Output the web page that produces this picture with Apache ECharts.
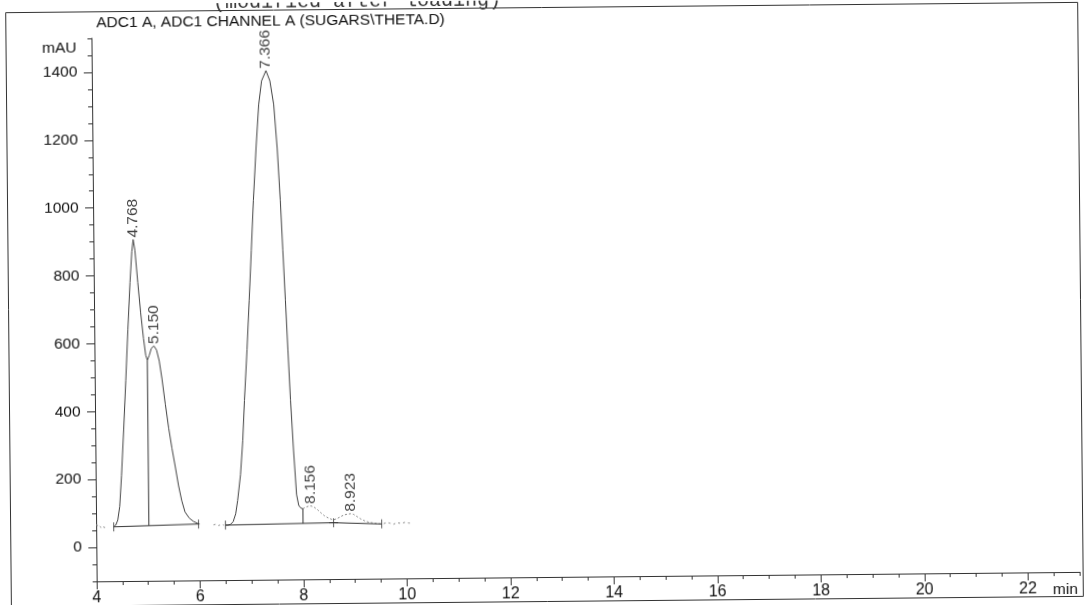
<!DOCTYPE html>
<html>
<head>
<meta charset="utf-8">
<script src="https://cdn.jsdelivr.net/npm/echarts@6/dist/echarts.min.js"></script>
<style>
  html, body { margin: 0; padding: 0; background: #fff; overflow: hidden; }
  #chart { width: 1092px; height: 605px; transform: rotate(-0.55deg); transform-origin: 546px 302px; }
</style>
</head>
<body>
<div id="chart"></div>
<script>
// Axis ticks: retention time (min) and detector response (mAU)
const timeTicks = [4, 6, 8, 10, 12, 14, 16, 18, 20, 22];
const responseTicks = [0, 200, 400, 600, 800, 1000, 1200, 1400];

// Detector trace, [time, mAU]; faint stretches are kept apart from the solid peak runs
const traceLead = [[4.00, 66], [4.03, 61], [4.06, 63], [4.10, 58], [4.14, 60], [4.19, 57]];
const tracePeaksAB = [
  [4.34, 60], [4.38, 65], [4.42, 80], [4.46, 120], [4.50, 210], [4.55, 345], [4.60, 490],
  [4.65, 640], [4.70, 780], [4.74, 870], [4.768, 906], [4.80, 875], [4.85, 780], [4.90, 690],
  [4.95, 615], [4.99, 565], [5.02, 550], [5.06, 565], [5.10, 585], [5.150, 592], [5.20, 580],
  [5.25, 548], [5.30, 495], [5.36, 420], [5.42, 350], [5.48, 290], [5.54, 236], [5.60, 180],
  [5.66, 135], [5.72, 102], [5.80, 84], [5.88, 74], [5.96, 68], [6.00, 66]
];
const traceGap = [[6.27, 63], [6.32, 65], [6.37, 61], [6.42, 64], [6.47, 62]];
const tracePeakC = [
  [6.50, 62], [6.55, 62], [6.60, 64], [6.65, 72], [6.70, 95], [6.74, 134], [6.80, 210],
  [6.85, 310], [6.89, 429], [6.95, 580], [7.00, 723], [7.05, 870], [7.10, 1018], [7.16, 1170],
  [7.22, 1300], [7.28, 1370], [7.366, 1400], [7.44, 1370], [7.51, 1300], [7.57, 1170],
  [7.62, 1018], [7.66, 870], [7.70, 723], [7.74, 575], [7.78, 429], [7.83, 280], [7.88, 150],
  [7.92, 118], [7.96, 110], [8.00, 108]
];
const traceMinor = [
  [8.00, 108], [8.05, 112], [8.10, 115], [8.156, 116], [8.21, 113], [8.28, 105], [8.35, 95],
  [8.42, 86], [8.49, 80], [8.55, 76], [8.60, 75], [8.66, 78], [8.73, 84], [8.80, 89],
  [8.87, 91], [8.923, 92], [8.98, 90], [9.05, 83], [9.12, 76], [9.20, 70], [9.28, 66],
  [9.36, 64], [9.44, 62], [9.52, 61]
];
const traceTail = [[9.56, 62], [9.62, 65], [9.68, 63], [9.75, 60], [9.82, 64], [9.90, 62], [9.97, 65], [10.04, 63], [10.10, 62]];

// Integration baselines, drop lines and baseline start/stop marks
const baselineA = [[4.34, 60], [5.98, 66]];
const baselineB = [[6.50, 62], [8.59, 66]];
const baselineC = [[8.59, 66], [9.52, 61]];
const dropLineA = [[5.02, 62.5], [5.02, 550]];
const dropLineB = [[8.00, 64.9], [8.00, 108]];
const baselineMarks = [[4.34, 60], [5.98, 66], [6.50, 62], [8.59, 66], [9.52, 61]];
const crossMarks = [[8.59, 66]];

// Peak retention times and apex heights
const peakTimes = [4.768, 5.150, 7.366, 8.156, 8.923];
const peakHeights = [906, 592, 1400, 116, 92];

const FONT = 'Liberation Sans, Arial, sans-serif';
const INK = '#111';

function traceSeries(data, color, type) {
  return {
    type: 'line', data: data, xAxisIndex: 0, yAxisIndex: 0,
    showSymbol: false, symbol: 'none', silent: true, animation: false,
    lineStyle: { width: 1, color: color, type: type || 'solid' }
  };
}

const chart = echarts.init(document.getElementById('chart'), null, { renderer: 'canvas' });

const series = [
  traceSeries(traceLead, '#8a8a8a', [2, 2]),
  traceSeries(tracePeaksAB, '#444'),
  traceSeries(traceGap, '#8a8a8a', [2, 3]),
  traceSeries(tracePeakC, '#444'),
  traceSeries(traceMinor, '#8a8a8a', [2, 2]),
  traceSeries(traceTail, '#8a8a8a', [2, 3]),
  traceSeries(baselineA, '#333'),
  traceSeries(baselineB, '#333'),
  traceSeries(baselineC, '#333'),
  traceSeries(dropLineA, '#333'),
  traceSeries(dropLineB, '#333'),
  {
    type: 'scatter', data: baselineMarks, symbol: 'rect', symbolSize: [1, 9],
    itemStyle: { color: '#333' }, silent: true, animation: false
  },
  {
    type: 'scatter', data: crossMarks, symbol: 'rect', symbolSize: [9, 1],
    itemStyle: { color: '#333' }, silent: true, animation: false
  },
  {
    type: 'scatter', data: peakTimes.map((t, i) => [t, peakHeights[i]]),
    symbolSize: 0, silent: true, animation: false,
    label: {
      show: true, position: 'top', distance: 3, rotate: 90,
      align: 'left', verticalAlign: 'middle', offset: [-1, 0],
      formatter: p => p.value[0].toFixed(3),
      fontFamily: FONT, fontSize: 15.5, color: INK
    }
  }
];

const axisLine = { show: true, onZero: false, lineStyle: { color: '#333', width: 1 } };
const hiddenLine = { show: false, onZero: false };
const tickStyle = { color: '#333', width: 1 };

chart.setOption({
  animation: false,
  backgroundColor: '#fff',
  grid: { left: 94, right: 15, top: 34, bottom: 28, containLabel: false },
  xAxis: [
    {
      type: 'value', min: 4, max: 23, interval: 0.5, position: 'bottom',
      axisLine: axisLine, axisTick: { show: true, length: 4, lineStyle: tickStyle },
      axisLabel: { show: false }, splitLine: { show: false }
    },
    {
      type: 'value', min: 4, max: 23, position: 'bottom',
      axisLine: hiddenLine,
      axisTick: { show: true, length: 8, customValues: timeTicks, lineStyle: tickStyle },
      axisLabel: { show: true, customValues: timeTicks, margin: 9, fontFamily: FONT, fontSize: 16, color: INK },
      splitLine: { show: false },
      name: 'min', nameLocation: 'end', nameGap: 0,
      nameTextStyle: { fontFamily: FONT, fontSize: 15.5, color: INK, align: 'right', verticalAlign: 'top', padding: [10, 2, 0, 0] }
    }
  ],
  yAxis: [
    {
      type: 'value', min: -100, max: 1500, interval: 50, position: 'left',
      axisLine: axisLine, axisTick: { show: true, length: 4, lineStyle: tickStyle },
      axisLabel: { show: false }, splitLine: { show: false }
    },
    {
      type: 'value', min: -100, max: 1500, position: 'left',
      axisLine: hiddenLine,
      axisTick: { show: true, length: 8, customValues: responseTicks, lineStyle: tickStyle },
      axisLabel: {
        show: true, customValues: responseTicks, margin: 14.5, formatter: v => String(v),
        fontFamily: FONT, fontSize: 15.5, color: INK
      },
      splitLine: { show: false },
      name: 'mAU', nameLocation: 'end', nameGap: -10,
      nameTextStyle: { fontFamily: FONT, fontSize: 15.5, color: INK, align: 'right', verticalAlign: 'middle', padding: [0, 15, 0, 0] }
    }
  ],
  graphic: [
    {
      type: 'rect', silent: true, z: -1,
      shape: { x: 8.5, y: 7.5, width: 1072, height: 594 },
      style: { fill: 'none', stroke: '#333', lineWidth: 1 }
    },
    {
      type: 'text', silent: true,
      style: { x: 99, y: 19, text: 'ADC1 A, ADC1 CHANNEL A (SUGARS\\THETA.D)', font: '15.5px ' + FONT, fill: INK, verticalAlign: 'middle' }
    },
    {
      type: 'text', silent: true,
      style: { x: 216, y: 0, text: '(modified after loading)', font: '20px Liberation Mono, Courier New, monospace', fill: '#333', verticalAlign: 'middle' }
    }
  ],
  series: series
});
</script>
</body>
</html>
